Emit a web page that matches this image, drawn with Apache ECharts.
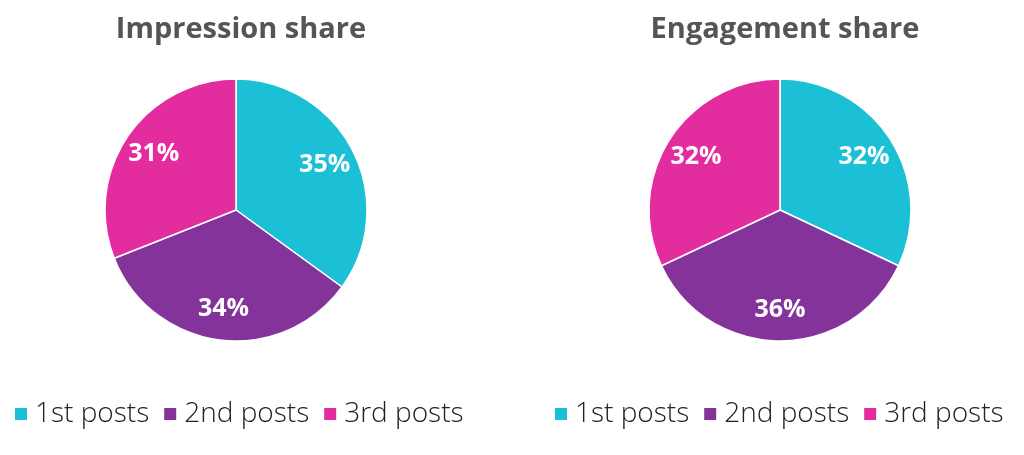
<!DOCTYPE html>
<html lang="en" style="height: 100%">
<head>
    <meta charset="utf-8">
</head>
<body style="height: 100%; margin: 0; background: #fff">
<div id="container" style="width: 1024px; height: 455px"></div>

<script type="text/javascript" src="https://fastly.jsdelivr.net/npm/echarts@6/dist/echarts.min.js"></script>
<script type="text/javascript">
    var categories = ['1st posts', '2nd posts', '3rd posts'];
    var colors = ['#1bbfd6', '#84339b', '#e32c9e'];
    var impressionShare = [35, 34, 31];
    var engagementShare = [32, 36, 32];
    var chartTitles = ['Impression share', 'Engagement share'];

    var dom = document.getElementById('container');
    var myChart = echarts.init(dom, null, { renderer: 'canvas' });

    function toData(values) {
        return values.map(function (v, i) {
            return { name: categories[i], value: v };
        });
    }

    // pie slices, no labels
    function pieSeries(values, cx) {
        return {
            type: 'pie',
            center: [cx, 210],
            radius: 131,
            startAngle: 90,
            clockwise: true,
            color: colors,
            itemStyle: { borderColor: '#fff', borderWidth: 1.5 },
            label: { show: false },
            labelLine: { show: false },
            emphasis: { disabled: true },
            data: toData(values)
        };
    }

    // transparent ring that only carries the labels further out
    function labelSeries(values, cx) {
        return {
            type: 'pie',
            center: [cx, 210],
            radius: [62, 131],
            startAngle: 90,
            silent: true,
            itemStyle: { color: 'rgba(0,0,0,0)' },
            label: {
                show: true,
                position: 'inside',
                formatter: '{c}%',
                color: '#fff',
                fontFamily: 'Open Sans',
                fontWeight: 'bold',
                fontSize: 25
            },
            labelLine: { show: false },
            emphasis: { disabled: true },
            data: toData(values)
        };
    }

    function legend(cx) {
        return {
            data: categories,
            left: cx,
            top: 395,
            width: 520,
            itemWidth: 14,
            itemHeight: 14,
            itemGap: 13,
            icon: 'rect',
            selectedMode: false,
            textStyle: { fontFamily: 'Open Sans', fontWeight: 300, fontSize: 28, color: '#222', padding: [0, 0, 0, 2] }
        };
    }

    var titleStyle = { fontFamily: 'Open Sans', fontWeight: 'bold', fontSize: 29, color: '#555' };

    var option = {
        animation: false,
        title: [
            { text: chartTitles[0], left: 236, top: 10, textAlign: 'center', textStyle: titleStyle },
            { text: chartTitles[1], left: 780, top: 10, textAlign: 'center', textStyle: titleStyle }
        ],
        legend: [legend(8), legend(548)],
        series: [
            pieSeries(impressionShare, 236),
            labelSeries(impressionShare, 236),
            pieSeries(engagementShare, 780),
            labelSeries(engagementShare, 780)
        ]
    };

    myChart.setOption(option);
    window.addEventListener('resize', myChart.resize);
</script>
</body>
</html>
